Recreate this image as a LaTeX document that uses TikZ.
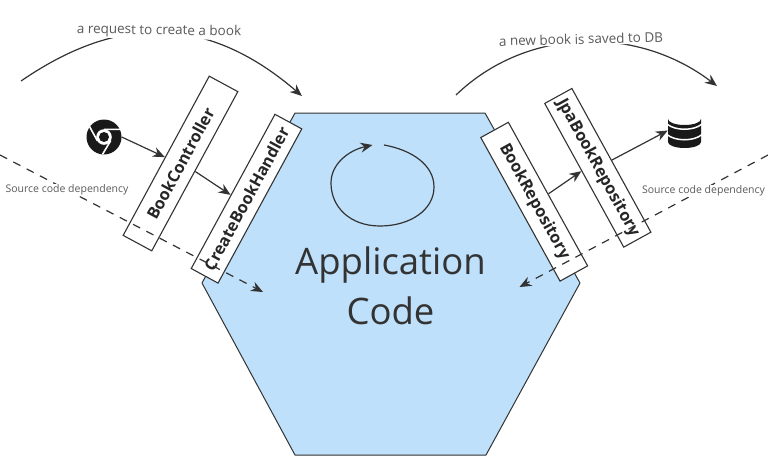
\documentclass[tikz,border=0pt]{standalone}
\usepackage{fontspec}
\setmainfont{Open Sans}
\usetikzlibrary{arrows.meta,calc}
\definecolor{hexfill}{HTML}{BFE0FA}
\definecolor{ink}{HTML}{333333}
\definecolor{lab}{HTML}{5A5A5A}
\tikzset{
  layerbox/.style={draw=ink,line width=1.1pt,fill=white,inner sep=0pt,font=\fontsize{16.3}{18}\selectfont\bfseries,text=black!85},
  conn/.style={draw=ink,line width=1.2pt,-{Stealth[length=12pt,width=10pt]}},
  depline/.style={conn,dash pattern=on 8pt off 7pt},
  caption/.style={text=lab,font=\fontsize{13.5}{16}\selectfont,fill=white,inner sep=1pt},
  smallcap/.style={text=lab,font=\fontsize{10.5}{12}\selectfont,fill=white,inner sep=0.5pt}
}
\begin{document}
\begin{tikzpicture}[x=1pt,y=-1pt]
\useasboundingbox (0,0) rectangle (768,456);
% hexagon
\draw[draw=ink,line width=1pt,fill=hexfill,line join=round] (295,113) -- (485,113) -- (580,283) -- (486,455) -- (295,455) -- (202,283) -- cycle;
\node[align=center,text=black!80,font=\fontsize{36.5}{50}\selectfont] (app) at (390.5,286) {Application\\Code};
% self loop
\coordinate (ls) at (384,145);
\coordinate (le) at (372.5,145);
\draw[conn] (ls) .. controls (412,150) and (434,165) .. (434,187)
  .. controls (434,210) and (410,226) .. (380,226)
  .. controls (350,226) and (331,207) .. (331,183)
  .. controls (331,163) and (350,150) .. (le);
% boxes
\node[layerbox,minimum width=181pt,minimum height=32.5pt,rotate=61.6] (bc) at (180.5,163.5) {BookController};
\node[layerbox,minimum width=175.5pt,minimum height=30.5pt,rotate=61.5] (cb) at (246.5,198.7) {CreateBookHandler};
\node[layerbox,minimum width=164pt,minimum height=31.5pt,rotate=-61.1] (br) at (534.2,201.7) {BookRepository};
\node[layerbox,minimum width=164pt,minimum height=31pt,rotate=-61.2] (jp) at (597.8,167.8) {JpaBookRepository};
% chrome icon
\node[circle,fill=black!90,inner sep=0pt,minimum size=35pt] (chrome) at (104,137) {};
\fill[white] (104,137) circle (7.8pt);
\fill[black!90] (104,137) circle (5pt);
\draw[white,line width=1.6pt] (104,129.4) -- (120,129.4)
  (97.4,140.8) -- (89.5,126.5)
  (110.6,140.8) -- (102.5,154.3);
% database icon
\node[inner sep=0pt,minimum width=33pt,minimum height=35pt] (db) at (684.5,130.5) {};
\fill[black!90] (668,119) arc[start angle=180,end angle=0,x radius=16.5pt,y radius=-6pt]
  -- (701,142) arc[start angle=0,end angle=180,x radius=16.5pt,y radius=-6pt] -- cycle;
\draw[white,line width=1.5pt] (667,124) .. controls (675,131) and (694,131) .. (702,124);
\draw[white,line width=1.5pt] (667,134.5) .. controls (675,141.5) and (694,141.5) .. (702,134.5);
% connectors
\draw[conn] (chrome.east) -- ($(bc.north west)!0.49!(bc.north east)$);
\draw[conn] ($(bc.south west)!0.50!(bc.south east)$) -- ($(cb.north west)!0.476!(cb.north east)$);
\draw[conn] ($(br.north west)!0.5!(br.north east)$) -- ($(jp.south west)!0.47!(jp.south east)$);
\draw[conn] ($(jp.north west)!0.5!(jp.north east)$) -- (db.west);
% dependency lines
\coordinate (dl) at (0,155);
\coordinate (dlt) at (263,292);
\coordinate (dr) at (768,155);
\coordinate (drt) at (519.5,287);
\draw[depline] (dl) -- (dlt);
\draw[depline] (dr) -- (drt);
\node[smallcap] (sl) at (67,190) {Source code dependency};
\node[smallcap] (sr) at (703.5,191) {Source code dependency};
% top curves
\coordinate (a1) at (21,81);
\coordinate (a2) at (302,96);
\coordinate (b1) at (456,95);
\coordinate (b2) at (717,86);
\draw[conn] (a1) .. controls (112,18.5) and (202,10) .. (a2);
\draw[conn] (b1) .. controls (526,27.5) and (636,24.5) .. (b2);
\node[caption,rotate=-1] (ca) at (159,31) {a request to create a book};
\node[caption,rotate=1.5] (cb2) at (581,39) {a new book is saved to DB};
\end{tikzpicture}
\end{document}
